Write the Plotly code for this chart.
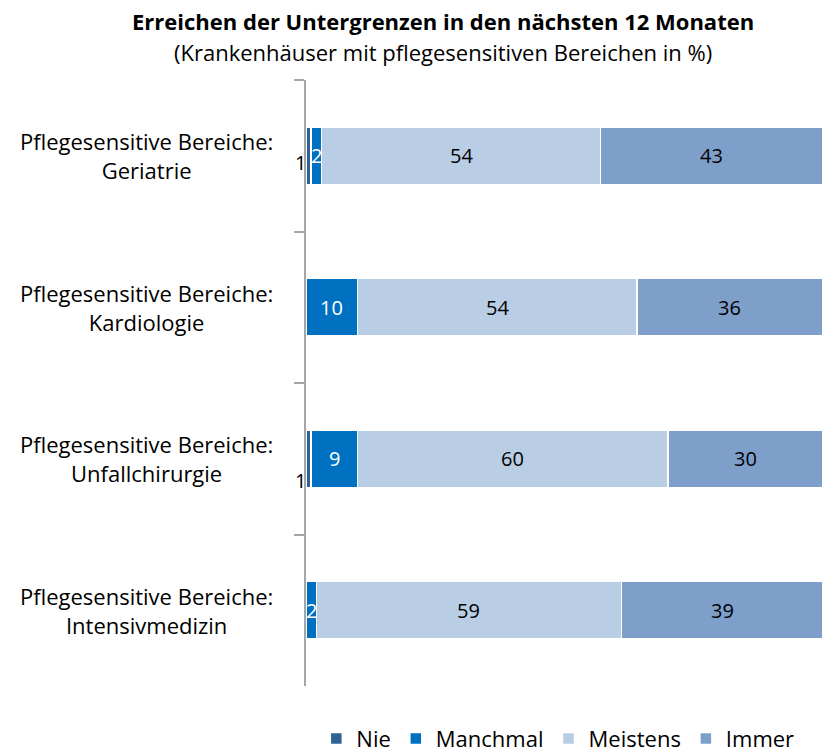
import plotly.graph_objects as go

categories = ["Geriatrie", "Kardiologie", "Unfallchirurgie", "Intensivmedizin"]
category_prefix = "Pflegesensitive Bereiche:"
series_names = ["Nie", "Manchmal", "Meistens", "Immer"]
nie = [1, 0, 1, 0]
manchmal = [2, 10, 9, 2]
meistens = [54, 54, 60, 59]
immer = [43, 36, 30, 39]

title_text = "Erreichen der Untergrenzen in den nächsten 12 Monaten"
subtitle_text = "(Krankenhäuser mit pflegesensitiven Bereichen in %)"

colors = ["#2F6395", "#0070C0", "#B9CDE5", "#7F9FCB"]
label_colors = ["black", "white", "black", "black"]
nie_label_yshift = [-7, 0, -22, 0]  # style: vertical offset of small outside labels
FONT = "Open Sans, Noto Sans, sans-serif"

series = [nie, manchmal, meistens, immer]

fig = go.Figure()
for name, vals, col in zip(series_names, series, colors):
    fig.add_trace(go.Bar(
        y=categories, x=vals, name=name, orientation="h",
        marker=dict(color=col, line=dict(color="white", width=1.5)),
        width=0.38, hoverinfo="skip",
    ))

annotations = []
# value labels
for i, cat in enumerate(categories):
    cum = 0
    for s, vals in enumerate(series):
        v = vals[i]
        if v > 0:
            if s == 0:
                annotations.append(dict(x=0, y=cat, xref="x", yref="y", text=str(v),
                                        showarrow=False, xanchor="right", xshift=2,
                                        yshift=nie_label_yshift[i],
                                        font=dict(family=FONT, size=20, color="black")))
            else:
                annotations.append(dict(x=cum + v / 2, y=cat, xref="x", yref="y", text=str(v),
                                        showarrow=False, xanchor="center",
                                        font=dict(family=FONT, size=20, color=label_colors[s])))
        cum += v
# category labels (centered two-line)
for cat in categories:
    annotations.append(dict(x=-0.309, y=cat, xref="paper", yref="y",
                            text=category_prefix + "<br>" + cat, showarrow=False,
                            xanchor="center", align="center",
                            font=dict(family=FONT, size=22, color="black")))
annotations.append(dict(x=0.265, y=1.097, xref="paper", yref="paper", text="<b>" + title_text + "</b>",
                        showarrow=False, xanchor="center", yanchor="middle",
                        font=dict(family=FONT, size=22, color="black")))
annotations.append(dict(x=0.265, y=1.046, xref="paper", yref="paper", text=subtitle_text,
                        showarrow=False, xanchor="center", yanchor="middle",
                        font=dict(family=FONT, size=22, color="black")))

fig.update_layout(
    width=823, height=752,
    margin=dict(l=306, r=0, t=80, b=66, autoexpand=False),
    paper_bgcolor="white", plot_bgcolor="white",
    barmode="stack",
    showlegend=True,
    legend=dict(orientation="h", x=0.02, xanchor="left", y=-0.087, yanchor="middle",
                font=dict(family=FONT, size=22, color="black"), traceorder="normal",
                itemwidth=30),
    xaxis=dict(range=[0, 100], visible=False, fixedrange=True),
    yaxis=dict(autorange="reversed", showticklabels=False, showline=True,
               linecolor="#A6A6A6", linewidth=2, ticks="outside", tickson="boundaries",
               ticklen=10, tickcolor="#A6A6A6", tickwidth=2, showgrid=False, zeroline=False),
    annotations=annotations,
    font=dict(family=FONT),
)

fig.write_html("out.html", config={"displayModeBar": False},
               post_script="document.body.style.margin='0';")
